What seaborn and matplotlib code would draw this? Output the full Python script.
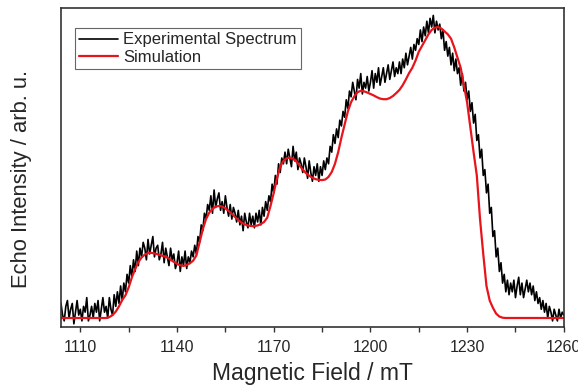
import numpy as np
import pandas as pd
import seaborn as sns
import matplotlib.pyplot as plt
from matplotlib.ticker import MultipleLocator


# experimental echo-detected spectrum, every 0.5 mT (1104 .. 1260 mT)
exp_field = np.arange(1104.0, 1260.25, 0.5)
exp_intensity = [
    0.05, 0.01, -0.01, 0.04, 0.06, 0.00, 0.03, 0.05, -0.02, 0.02,
    0.06, 0.01, 0.03, -0.01, 0.04, 0.02, 0.07, -0.01, 0.01, 0.04,
    0.00, 0.05, 0.02, 0.06, -0.01, 0.03, 0.07, 0.02, 0.04, 0.00,
    0.07, 0.03, 0.01, 0.08, 0.04, 0.09, 0.05, 0.11, 0.06, 0.12,
    0.09, 0.15, 0.12, 0.18, 0.14, 0.20, 0.16, 0.23, 0.18, 0.24,
    0.21, 0.26, 0.24, 0.20, 0.27, 0.22, 0.25, 0.28, 0.21, 0.24,
    0.25, 0.20, 0.22, 0.26, 0.19, 0.24, 0.21, 0.18, 0.24, 0.20,
    0.22, 0.17, 0.19, 0.23, 0.16, 0.21, 0.18, 0.23, 0.17, 0.21,
    0.19, 0.23, 0.21, 0.25, 0.22, 0.28, 0.26, 0.32, 0.30, 0.36,
    0.34, 0.39, 0.37, 0.42, 0.36, 0.44, 0.38, 0.41, 0.43, 0.37,
    0.40, 0.36, 0.42, 0.38, 0.35, 0.39, 0.34, 0.38, 0.36, 0.33,
    0.37, 0.32, 0.35, 0.30, 0.36, 0.33, 0.31, 0.36, 0.32, 0.35,
    0.31, 0.36, 0.33, 0.37, 0.32, 0.38, 0.35, 0.40, 0.37, 0.42,
    0.40, 0.46, 0.43, 0.49, 0.46, 0.53, 0.50, 0.55, 0.53, 0.57,
    0.53, 0.58, 0.55, 0.52, 0.59, 0.54, 0.57, 0.51, 0.55, 0.53,
    0.50, 0.55, 0.52, 0.48, 0.54, 0.50, 0.47, 0.52, 0.49, 0.53,
    0.47, 0.52, 0.49, 0.54, 0.51, 0.55, 0.53, 0.59, 0.57, 0.63,
    0.60, 0.65, 0.62, 0.68, 0.66, 0.71, 0.69, 0.75, 0.72, 0.78,
    0.76, 0.81, 0.78, 0.75, 0.82, 0.79, 0.84, 0.77, 0.81, 0.79,
    0.83, 0.78, 0.81, 0.85, 0.79, 0.84, 0.81, 0.86, 0.80, 0.83,
    0.86, 0.81, 0.84, 0.87, 0.82, 0.85, 0.88, 0.83, 0.86, 0.84,
    0.88, 0.84, 0.89, 0.86, 0.91, 0.87, 0.90, 0.93, 0.89, 0.94,
    0.92, 0.96, 0.94, 0.99, 0.95, 1.00, 0.97, 1.02, 0.98, 1.03,
    1.00, 1.04, 0.98, 1.02, 0.99, 1.01, 0.96, 0.99, 0.92, 0.95,
    0.90, 0.93, 0.87, 0.91, 0.85, 0.89, 0.84, 0.86, 0.80, 0.84,
    0.78, 0.81, 0.75, 0.78, 0.71, 0.74, 0.67, 0.70, 0.61, 0.63,
    0.55, 0.58, 0.49, 0.51, 0.43, 0.46, 0.36, 0.38, 0.28, 0.30,
    0.21, 0.24, 0.16, 0.19, 0.12, 0.15, 0.09, 0.13, 0.08, 0.12,
    0.09, 0.13, 0.07, 0.11, 0.14, 0.08, 0.12, 0.07, 0.10, 0.13,
    0.09, 0.12, 0.08, 0.11, 0.06, 0.09, 0.05, 0.07, 0.03, 0.06,
    0.02, 0.05, 0.00, 0.04, 0.02, -0.01, 0.03, 0.01, -0.01, 0.03,
    0.00, 0.02, 0.01,
]

# simulated spectrum
sim_field = [
    1104, 1110, 1115, 1118, 1119, 1120, 1121, 1122, 1123, 1124,
    1125, 1126, 1127, 1128, 1129, 1130, 1131, 1132, 1133, 1134,
    1135, 1136, 1137, 1138, 1139, 1140, 1141, 1142, 1143, 1144,
    1145, 1146, 1147, 1148, 1149, 1150, 1151, 1152, 1153, 1154,
    1155, 1156, 1157, 1158, 1159, 1160, 1161, 1162, 1163, 1164,
    1165, 1166, 1167, 1168, 1169, 1170, 1171, 1172, 1173, 1174,
    1175, 1176, 1177, 1178, 1179, 1180, 1181, 1182, 1183, 1184,
    1185, 1186, 1187, 1188, 1189, 1190, 1191, 1192, 1193, 1194,
    1195, 1196, 1197, 1198, 1199, 1200, 1201, 1202, 1203, 1204,
    1205, 1206, 1207, 1208, 1209, 1210, 1211, 1212, 1213, 1214,
    1215, 1216, 1217, 1218, 1219, 1220, 1221, 1222, 1223, 1224,
    1225, 1226, 1227, 1228, 1229, 1230, 1231, 1232, 1233, 1234,
    1235, 1236, 1237, 1238, 1239, 1240, 1241, 1242, 1250, 1260,
]
sim_intensity = [
    0.0, 0.0, 0.0, 0.0, 0.003, 0.01, 0.022, 0.04, 0.062, 0.078,
    0.105, 0.14, 0.168, 0.192, 0.208, 0.218, 0.223, 0.224, 0.222, 0.219,
    0.215, 0.212, 0.208, 0.200, 0.193, 0.186, 0.181, 0.179, 0.182, 0.188,
    0.197, 0.215, 0.26, 0.305, 0.34, 0.362, 0.375, 0.383, 0.385, 0.383,
    0.377, 0.368, 0.358, 0.347, 0.337, 0.328, 0.322, 0.318, 0.316, 0.316,
    0.318, 0.323, 0.33, 0.345, 0.385, 0.43, 0.48, 0.52, 0.54, 0.549,
    0.551, 0.548, 0.538, 0.524, 0.51, 0.498, 0.489, 0.482, 0.477, 0.475,
    0.474, 0.476, 0.485, 0.502, 0.53, 0.57, 0.62, 0.665, 0.71, 0.742,
    0.762, 0.776, 0.781, 0.779, 0.775, 0.77, 0.765, 0.759, 0.754, 0.752,
    0.752, 0.756, 0.763, 0.773, 0.784, 0.80, 0.82, 0.842, 0.86, 0.885,
    0.915, 0.935, 0.955, 0.975, 0.99, 0.998, 1.0, 0.995, 0.985, 0.975,
    0.96, 0.93, 0.895, 0.86, 0.80, 0.74, 0.655, 0.57, 0.49, 0.34,
    0.22, 0.11, 0.06, 0.035, 0.015, 0.005, 0.001, 0.0, 0.0, 0.0,
]

exp_df = pd.DataFrame({"field": exp_field, "intensity": exp_intensity})
sim_df = pd.DataFrame({"field": sim_field, "intensity": sim_intensity})

sns.set_theme(style="ticks")
plt.rcParams["font.family"] = ["Liberation Sans", "DejaVu Sans"]

fig = plt.figure(figsize=(5.78, 3.87), dpi=100)
ax = fig.add_axes([0.1055, 0.155, 0.870, 0.824])

sns.lineplot(data=exp_df, x="field", y="intensity", ax=ax, color="black",
             linewidth=1.2, sort=False, estimator=None, label="Experimental Spectrum")
sns.lineplot(data=sim_df, x="field", y="intensity", ax=ax, color="#e8141c",
             linewidth=1.6, sort=False, estimator=None, label="Simulation")

ax.set_xlim(1104, 1260)
ax.set_ylim(-0.031, 1.065)
ax.xaxis.set_major_locator(MultipleLocator(30))
ax.xaxis.set_minor_locator(MultipleLocator(15))
ax.set_yticks([])
ax.tick_params(axis="x", which="both", direction="out", length=3.5, width=1.0,
               color="#333333", labelsize=11.5, pad=5.5)
for s in ax.spines.values():
    s.set_visible(True)
    s.set_color("#333333")
    s.set_linewidth(1.2)

ax.set_xlabel("Magnetic Field / mT", fontsize=16.5, labelpad=5.5)
ax.set_ylabel("Echo Intensity / arb. u.", fontsize=15.8)
ax.yaxis.set_label_coords(-0.057, 0.464)

leg = ax.legend(loc="upper left", bbox_to_anchor=(0.028, 0.937), borderaxespad=0,
                fontsize=12, frameon=True, fancybox=False, framealpha=1,
                edgecolor="#666666", handlelength=2.3, handletextpad=0.35,
                labelspacing=0.15, borderpad=0.25)
leg.get_frame().set_linewidth(0.8)

fig.savefig("out.png", dpi=100)
